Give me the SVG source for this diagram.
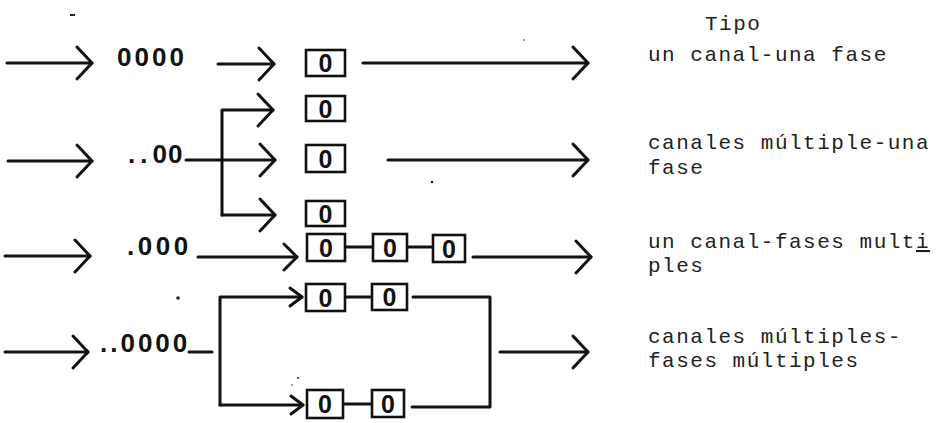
<svg xmlns="http://www.w3.org/2000/svg" width="941" height="423" viewBox="0 0 941 423">
<style>
.ln{fill:none;stroke:#111;stroke-width:3;stroke-linecap:round;stroke-linejoin:round}
.bx{fill:#fff;stroke:#111;stroke-width:2.6}
.bt{font-family:"Liberation Sans",Arial,sans-serif;font-weight:bold;font-size:25px;fill:#111;text-anchor:middle}
.q{font-family:"Liberation Sans",Arial,sans-serif;font-weight:bold;font-size:26px;fill:#111}
.ty{font-family:"Liberation Mono","Courier New",monospace;font-size:21px;fill:#222;letter-spacing:1.5px}
.sp{fill:#222}
</style>
<defs>
<marker id="big" markerUnits="userSpaceOnUse" viewBox="-2 -2 20 36" refX="15" refY="16" markerWidth="20" markerHeight="36" orient="auto" overflow="visible">
<path d="M0,0 L15,16 L0,32" fill="none" stroke="#111" stroke-width="3" stroke-linecap="round" stroke-linejoin="round"/>
</marker>
<marker id="mid" markerUnits="userSpaceOnUse" viewBox="-2 -2 18 30" refX="13" refY="13" markerWidth="18" markerHeight="30" orient="auto" overflow="visible">
<path d="M0,0 L13,13 L0,26" fill="none" stroke="#111" stroke-width="3" stroke-linecap="round" stroke-linejoin="round"/>
</marker>
<marker id="sm" markerUnits="userSpaceOnUse" viewBox="-2 -2 16 22" refX="12" refY="9" markerWidth="16" markerHeight="22" orient="auto" overflow="visible">
<path d="M0,0 L12,9 L0,18" fill="none" stroke="#111" stroke-width="3" stroke-linecap="round" stroke-linejoin="round"/>
</marker>
</defs>

<g id="connectors">
<path class="ln" d="M7,63 H92" marker-end="url(#big)"/>
<path class="ln" d="M218,64 H274" marker-end="url(#big)"/>
<path class="ln" d="M363,63 H588" marker-end="url(#big)"/>
<path class="ln" d="M8,161 H92" marker-end="url(#big)"/>
<path class="ln" d="M186,160 H275" marker-end="url(#big)"/>
<path class="ln" d="M222,215 V110 H273" marker-end="url(#big)"/>
<path class="ln" d="M222,215 H275" marker-end="url(#big)"/>
<path class="ln" d="M388,160 H588" marker-end="url(#big)"/>
<path class="ln" d="M5,256 H90" marker-end="url(#big)"/>
<path class="ln" d="M198,257 H297" marker-end="url(#mid)"/>
<path class="ln" d="M345,247 H373"/>
<path class="ln" d="M407,247 H433"/>
<path class="ln" d="M473,257 H591" marker-end="url(#big)"/>
<path class="ln" d="M5,352 H88" marker-end="url(#big)"/>
<path class="ln" d="M189,352 H212"/>
<path class="ln" d="M220,405 V297 H302" marker-end="url(#sm)"/>
<path class="ln" d="M220,405 H303" marker-end="url(#sm)"/>
<path class="ln" d="M345,297 H372"/>
<path class="ln" d="M343,404 H372"/>
<path class="ln" d="M413,297 H490 V407 H412"/>
<path class="ln" d="M500,352 H588" marker-end="url(#big)"/>
</g>

<g id="queue1"><text class="q" x="117" y="66" letter-spacing="3">0000</text></g>
<g id="queue2"><text class="q" x="128" y="163"><tspan letter-spacing="5">..</tspan><tspan letter-spacing="1">00</tspan></text></g>
<g id="queue3"><text class="q" x="127" y="255" letter-spacing="3.5">.000</text></g>
<g id="queue4"><text class="q" x="100" y="352" letter-spacing="3">..0000</text></g>

<g id="box1"><rect class="bx" x="306" y="50" width="39" height="26"/><text class="bt" x="325.5" y="72">0</text></g>
<g id="box2"><rect class="bx" x="306" y="96" width="39" height="25"/><text class="bt" x="325.5" y="117.5">0</text></g>
<g id="box3"><rect class="bx" x="306" y="145" width="39" height="27"/><text class="bt" x="325.5" y="167.5">0</text></g>
<g id="box4"><rect class="bx" x="306" y="201" width="39" height="25"/><text class="bt" x="325.5" y="222.5">0</text></g>
<g id="box5"><rect class="bx" x="307" y="234" width="38" height="27"/><text class="bt" x="326" y="256.5">0</text></g>
<g id="box6"><rect class="bx" x="373" y="234" width="34" height="27"/><text class="bt" x="390" y="256.5">0</text></g>
<g id="box7"><rect class="bx" x="433" y="235" width="32" height="27"/><text class="bt" x="449" y="257.5">0</text></g>
<g id="box8"><rect class="bx" x="306" y="284" width="39" height="27"/><text class="bt" x="325.5" y="306.5">0</text></g>
<g id="box9"><rect class="bx" x="372" y="284" width="35" height="26"/><text class="bt" x="389.5" y="306">0</text></g>
<g id="box10"><rect class="bx" x="307" y="390" width="36" height="28"/><text class="bt" x="325" y="413">0</text></g>
<g id="box11"><rect class="bx" x="372" y="390" width="32" height="27"/><text class="bt" x="388" y="412.5">0</text></g>

<g id="labels">
<text class="ty" x="705" y="30">Tipo</text>
<text class="ty" x="648" y="61">un canal-una fase</text>
<text class="ty" x="648" y="149">canales múltiple-una</text>
<text class="ty" x="648" y="174">fase</text>
<text class="ty" x="648" y="248">un canal-fases mult<tspan text-decoration="underline">i</tspan></text>
<text class="ty" x="648" y="272">ples</text>
<text class="ty" x="648" y="343">canales múltiples-</text>
<text class="ty" x="648" y="367">fases múltiples</text>
</g>

<g id="specks">
<rect class="sp" x="70" y="14" width="5" height="2"/>
<circle class="sp" cx="524" cy="40" r="0.8"/>
<circle class="sp" cx="432" cy="182" r="1.3"/>
<circle class="sp" cx="178" cy="298" r="1.8"/>
<circle class="sp" cx="298" cy="378" r="1"/>
<circle class="sp" cx="292" cy="385" r="0.8"/>
</g>
</svg>
